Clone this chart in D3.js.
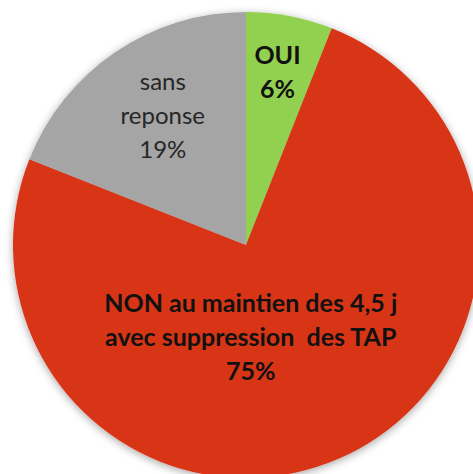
<!DOCTYPE html>
<html>
<head>
<meta charset="utf-8">
<script src="https://cdn.jsdelivr.net/npm/d3@7"></script>
<style>
  body { margin: 0; background: #fff; }
  text { font-family: Lato, "Open Sans", sans-serif; }
</style>
</head>
<body>
<svg id="chart" width="473" height="474"></svg>
<script>
var categories = ["OUI", "NON au maintien des 4,5 j|avec suppression  des TAP", "sans|reponse"];
var values = [6, 75, 19];
var colors = ["#92D050", "#D83418", "#A5A5A5"];
var labelWeights = ["bold", "bold", "normal"];
var labelColors = ["#111", "#111", "#262626"];

var svg = d3.select("#chart");
var cx = 246, cy = 245, radius = 233;

var defs = svg.append("defs");
var filter = defs.append("filter").attr("id", "shadow").attr("x", "-10%").attr("y", "-10%").attr("width", "120%").attr("height", "120%");
filter.append("feDropShadow").attr("dx", 0).attr("dy", 2).attr("stdDeviation", 4).attr("flood-color", "#000").attr("flood-opacity", 0.35);

var pie = d3.pie().sort(null).value(function(d) { return d; });
var arc = d3.arc().innerRadius(0).outerRadius(radius);
var arcs = pie(values);

var g = svg.append("g").attr("transform", "translate(" + cx + "," + cy + ")");
g.append("g").attr("filter", "url(#shadow)")
  .selectAll("path").data(arcs).enter().append("path")
  .attr("d", arc)
  .attr("fill", function(d, i) { return colors[i]; });

// label radius per slice (Excel best-fit style)
var labelRadius = [168, 100, 148];
var lineHeight = 34;
arcs.forEach(function(d, i) {
  var mid = (d.startAngle + d.endAngle) / 2;
  if (i === 1) mid = Math.PI * 0.985;
  var lx = Math.sin(mid) * labelRadius[i];
  var ly = -Math.cos(mid) * labelRadius[i];
  var lines = categories[i].split("|").concat([values[i] + "%"]);
  var t = g.append("text")
    .attr("text-anchor", "middle")
    .attr("font-size", i === 2 ? "24px" : "25px")
    .attr("font-weight", labelWeights[i])
    .attr("fill", labelColors[i])
    .attr("xml:space", "preserve");
  lines.forEach(function(line, k) {
    t.append("tspan")
      .attr("x", lx)
      .attr("y", ly + (k - (lines.length - 1) / 2) * lineHeight + 1)
      .text(line);
  });
});
</script>
</body>
</html>
